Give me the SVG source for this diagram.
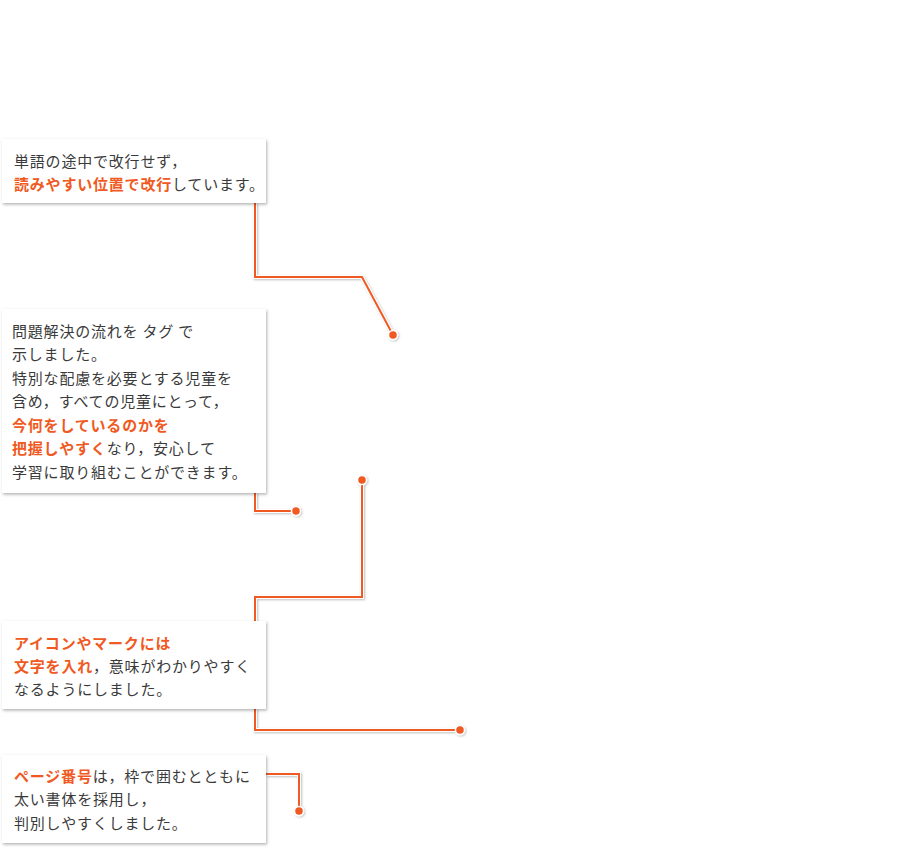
<svg xmlns="http://www.w3.org/2000/svg" width="920" height="848" viewBox="0 0 920 848">
<defs>
<filter id="sh" x="-10%" y="-10%" width="120%" height="130%">
<feDropShadow dx="1" dy="1.5" stdDeviation="1.5" flood-color="#000" flood-opacity="0.3"/>
</filter>
<filter id="lsh" x="-20%" y="-20%" width="140%" height="140%">
<feDropShadow dx="1" dy="1" stdDeviation="1" flood-color="#000" flood-opacity="0.25"/>
</filter>
</defs>
<style>
.box{fill:#fff;filter:url(#sh)}
.t{font-family:"Noto Sans CJK JP","Noto Sans",sans-serif;font-size:15px;fill:#3a3a3a;letter-spacing:0.8px}
.o{fill:#f05a22;font-weight:bold}
.halo{fill:none;stroke:#fff;stroke-width:4;stroke-linejoin:miter}
.ln{fill:none;stroke:#f05a22;stroke-width:2;stroke-linejoin:miter}
.dot{fill:#f05a22;stroke:#fff;stroke-width:1.5}
</style>
<rect width="920" height="848" fill="#fff"/>
<g id="connectors" filter="url(#lsh)">
<path class="halo" d="M255,203 V277 H362 L393,335"/>
<path class="ln" d="M255,203 V277 H362 L393,335"/>
<circle class="dot" cx="393" cy="335" r="4.5"/>
<path class="halo" d="M255,493 V511 H296"/>
<path class="ln" d="M255,493 V511 H296"/>
<circle class="dot" cx="296" cy="511" r="4.5"/>
<path class="halo" d="M362,480 V597 H255 V621"/>
<path class="ln" d="M362,480 V597 H255 V621"/>
<circle class="dot" cx="362" cy="480" r="4.5"/>
<path class="halo" d="M255,709 V730 H460"/>
<path class="ln" d="M255,709 V730 H460"/>
<circle class="dot" cx="460" cy="730" r="4.5"/>
<path class="halo" d="M266,774 H299 V811"/>
<path class="ln" d="M266,774 H299 V811"/>
<circle class="dot" cx="299" cy="811" r="4.5"/>
</g>
<g id="node1">
<rect class="box" x="2" y="139" width="264" height="64"/>
<text class="t" x="14" y="167">単語の途中で改行せず，</text>
<text class="t" x="14" y="190"><tspan class="o">読みやすい位置で改行</tspan>しています。</text>
</g>
<g id="node2">
<rect class="box" x="2" y="309" width="264" height="184"/>
<text class="t" x="12" y="337">問題解決の流れを タグ で</text>
<text class="t" x="12" y="360">示しました。</text>
<text class="t" x="12" y="384">特別な配慮を必要とする児童を</text>
<text class="t" x="12" y="407">含め，すべての児童にとって，</text>
<text class="t" x="12" y="431"><tspan class="o">今何をしているのかを</tspan></text>
<text class="t" x="12" y="454"><tspan class="o">把握しやすく</tspan>なり，安心して</text>
<text class="t" x="12" y="478">学習に取り組むことができます。</text>
</g>
<g id="node3">
<rect class="box" x="2" y="621" width="264" height="88"/>
<text class="t" x="14" y="649"><tspan class="o">アイコンやマークには</tspan></text>
<text class="t" x="14" y="672"><tspan class="o">文字を入れ</tspan>，意味がわかりやすく</text>
<text class="t" x="14" y="695">なるようにしました。</text>
</g>
<g id="node4">
<rect class="box" x="2" y="755" width="264" height="88"/>
<text class="t" x="14" y="782"><tspan class="o">ページ番号</tspan>は，枠で囲むとともに</text>
<text class="t" x="14" y="805">太い書体を採用し，</text>
<text class="t" x="14" y="829">判別しやすくしました。</text>
</g>
</svg>
